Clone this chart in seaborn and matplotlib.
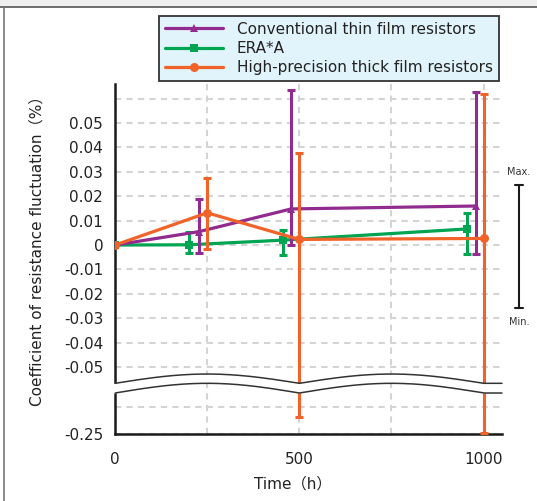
import numpy as np
import seaborn as sns
import matplotlib.pyplot as plt
import matplotlib.transforms as mtransforms
from matplotlib.lines import Line2D
from matplotlib.patches import Rectangle

# Data (time in h, fluctuation in %)
thin_x = [0, 228, 478, 980]
thin_y = [0, 0.0055, 0.0148, 0.0160]
thin_lo = [0, -0.0031, 0.0000, -0.0037]
thin_hi = [0, 0.0189, 0.0635, 0.0626]

era_x = [0, 200, 455, 955]
era_y = [0, 0.0001, 0.0020, 0.0066]
era_lo = [0, -0.0032, -0.0040, -0.0037]
era_hi = [0, 0.0053, 0.0061, 0.0130]

thick_x = [0, 250, 500, 1000]
thick_y = [0, 0.0132, 0.0023, 0.0027]
thick_lo = [0, -0.0018, -0.2437, -0.2494]
thick_hi = [0, 0.0273, 0.0376, 0.0618]

series_names = ["Conventional thin film resistors", "ERA*A",
                "High-precision thick film resistors"]
series_colors = ["#922b8f", "#00a551", "#f26329"]
series_markers = ["^", "s", "o"]

ytick_vals = [0.06, 0.05, 0.04, 0.03, 0.02, 0.01, 0, -0.01, -0.02, -0.03,
              -0.04, -0.05, -0.24, -0.25]
ytick_labels = ["", "0.05", "0.04", "0.03", "0.02", "0.01", "0", "-0.01",
                "-0.02", "-0.03", "-0.04", "-0.05", "", "-0.25"]
xtick_vals = [0, 250, 500, 750, 1000]
xtick_labels = ["0", "", "500", "", "1000"]

sns.set_theme(style="white")
plt.rcParams["font.family"] = ["DejaVu Sans", "Noto Sans CJK JP"]

# broken y axis: values between -0.06 and -0.235 are squeezed together
YS = [-1.0, -0.235, -0.06, 1.0]
US = [-0.06652 + (-1.0 + 0.24) * 1.106, -0.06652 + 0.005 * 1.106, -0.06, 1.0]


def fwd(y):
    return np.interp(y, YS, US)


def inv(u):
    return np.interp(u, US, YS)


fig = plt.figure(figsize=(5.37, 5.01), dpi=100)
ax = fig.add_axes([0.2142, 0.1331, 0.7206, 0.6992])
ax.set_yscale("function", functions=(fwd, inv))

groups = [
    (era_x, era_y, era_lo, era_hi, 1),
    (thin_x, thin_y, thin_lo, thin_hi, 0),
    (thick_x, thick_y, thick_lo, thick_hi, 2),
]
for z, (xs, ys, lo, hi, i) in enumerate(groups):
    sns.lineplot(x=xs, y=ys, ax=ax, color=series_colors[i], lw=2.3,
                 marker=series_markers[i], markersize=5.5 if i != 2 else 6.5,
                 markeredgewidth=0, label=series_names[i], zorder=3 + z,
                 sort=False)
    yerr = [np.array(ys[1:]) - np.array(lo[1:]), np.array(hi[1:]) - np.array(ys[1:])]
    ax.errorbar(xs[1:], ys[1:], yerr=yerr, fmt="none", ecolor=series_colors[i],
                elinewidth=2.2, capsize=3, capthick=2.2, zorder=3 + z)

ax.set_xticks(xtick_vals)
ax.set_xticklabels(xtick_labels)
ax.set_yticks(ytick_vals)
ax.set_yticklabels(ytick_labels)
ax.tick_params(length=0, labelsize=11, colors="#222222")
ax.tick_params(axis="y", pad=8.5)
ax.tick_params(axis="x", pad=13)
ax.grid(True, color="#d4d4d4", lw=1.5, ls=(0, (3, 2.5)))
ax.set_axisbelow(True)

sns.despine(ax=ax)
for side in ["left", "bottom"]:
    ax.spines[side].set_color("#1a1a1a")
    ax.spines[side].set_linewidth(1.8)

ax.set_xlabel("Time（h）", fontsize=11, color="#222222")
ax.xaxis.set_label_coords(0.46, -0.12)
ax.set_ylabel("Coefficient of resistance fluctuation（%）", fontsize=11,
              color="#222222")
ax.yaxis.set_label_coords(-0.182, 0.533)

# wavy break band
blend = mtransforms.blended_transform_factory(ax.transData, ax.transAxes)
wx = np.linspace(-6, 1050, 800)
w = np.abs(np.sin(np.pi * np.clip(wx, 0, 1000) / 500))
up = 0.1456 + 0.0265 * w
lo_w = 0.1179 + 0.0277 * w
ax.fill_between(wx, lo_w, up, color="white", transform=blend, zorder=20,
                clip_on=False, lw=0)
keep = wx >= 0
ax.plot(wx[keep], up[keep], color="#333333", lw=1.1, transform=blend,
        zorder=21, clip_on=False)
ax.plot(wx[keep], lo_w[keep], color="#333333", lw=1.1, transform=blend,
        zorder=21, clip_on=False)
ax.set_xlim(0, 1050)
ax.set_ylim(-0.25, 0.066)

# legend
handles, labels = ax.get_legend_handles_labels()
order = [labels.index(n) for n in series_names]
leg = ax.legend([handles[k] for k in order], [labels[k] for k in order],
                loc="upper left", bbox_to_anchor=(159 / 537, 1 - 15.7 / 501),
                bbox_transform=fig.transFigure, borderaxespad=0,
                fontsize=11, frameon=True, fancybox=False, framealpha=1,
                facecolor="#e1f4fb", edgecolor="#333333",
                handlelength=3.8, handletextpad=0.9, labelspacing=0.28,
                borderpad=0.4)
leg.get_frame().set_linewidth(1.3)
for t in leg.get_texts():
    t.set_color("#222222")

# Max./Min. key on the right
kx = 519 / 537
ky_top = 1 - 185 / 501
ky_bot = 1 - 308 / 501
cw = 4 / 537
fig.add_artist(Line2D([kx, kx], [ky_bot, ky_top], color="#1a1a1a", lw=1.5))
fig.add_artist(Line2D([kx - cw, kx + cw], [ky_top, ky_top], color="#1a1a1a", lw=1.5))
fig.add_artist(Line2D([kx - cw, kx + cw], [ky_bot, ky_bot], color="#1a1a1a", lw=1.5))
fig.text(kx, 1 - 172 / 501, "Max.", fontsize=7, ha="center", va="center",
         color="#333333")
fig.text(kx, 1 - 322 / 501, "Min.", fontsize=7, ha="center", va="center",
         color="#333333")

# outer frame: grey strip on top plus border lines
fig.add_artist(Rectangle((0, 1 - 6 / 501), 1, 6 / 501, transform=fig.transFigure,
                         facecolor="#efefef", edgecolor="none"))
fig.add_artist(Line2D([0, 1], [1 - 6.5 / 501, 1 - 6.5 / 501], color="#555555", lw=1.2))
fig.add_artist(Line2D([3.5 / 537, 3.5 / 537], [0, 1 - 6.5 / 501], color="#777777", lw=1.2))

fig.savefig("out.png", dpi=100)
